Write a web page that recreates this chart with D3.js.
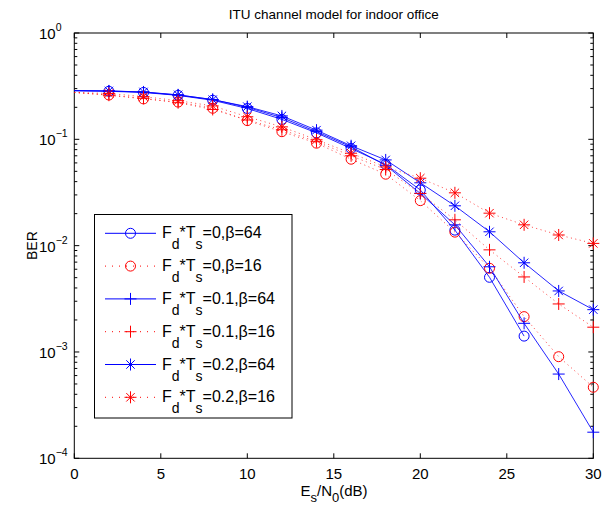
<!DOCTYPE html>
<html lang="en">
<head>
    <meta charset="UTF-8">
    <title>ITU channel model for indoor office</title>
    <script src="https://d3js.org/d3.v7.min.js"></script>
    <style>
        body { margin: 0; background: #fff; }
        svg { display: block; font-family: "Liberation Sans", Arial, sans-serif; }
    </style>
</head>
<body>
<svg id="chart" width="613" height="508"></svg>
<script>
    // Es/N0 points (dB)
    const snr = [0, 2, 4, 6, 8, 10, 12, 14, 16, 18, 20, 22, 24, 26, 28, 30];

    // BER values (null = not plotted)
    const berFd0b64   = [0.287, 0.283, 0.276, 0.259, 0.233, 0.195, 0.154, 0.115, 0.082, 0.058, 0.0334, 0.0140, 0.00504, 0.00141, null, null];
    const berFd0b16   = [0.276, 0.261, 0.240, 0.224, 0.196, 0.150, 0.118, 0.092, 0.065, 0.047, 0.0265, 0.0134, 0.00613, 0.00215, 0.000903, 0.000466];
    const berFd01b64  = [0.287, 0.285, 0.278, 0.261, 0.237, 0.200, 0.160, 0.118, 0.085, 0.057, 0.031, 0.0157, 0.00633, 0.00186, 0.00062, 0.000176];
    const berFd01b16  = [0.276, 0.260, 0.243, 0.221, 0.191, 0.152, 0.123, 0.095, 0.070, 0.052, 0.031, 0.0175, 0.00913, 0.00508, 0.00283, 0.00171];
    const berFd02b64  = [0.287, 0.285, 0.279, 0.262, 0.236, 0.203, 0.166, 0.122, 0.087, 0.064, 0.039, 0.0237, 0.0135, 0.0069, 0.00375, 0.0025];
    const berFd02b16  = [0.276, 0.270, 0.252, 0.231, 0.206, 0.163, 0.131, 0.099, 0.074, 0.055, 0.0431, 0.0314, 0.0202, 0.0157, 0.0126, 0.0105];

    const series = [
        { fd: "0",   beta: "64", color: "#0000ff", dotted: false, marker: "circle", values: berFd0b64 },
        { fd: "0",   beta: "16", color: "#ff0000", dotted: true,  marker: "circle", values: berFd0b16 },
        { fd: "0.1", beta: "64", color: "#0000ff", dotted: false, marker: "plus",   values: berFd01b64 },
        { fd: "0.1", beta: "16", color: "#ff0000", dotted: true,  marker: "plus",   values: berFd01b16 },
        { fd: "0.2", beta: "64", color: "#0000ff", dotted: false, marker: "star",   values: berFd02b64 },
        { fd: "0.2", beta: "16", color: "#ff0000", dotted: true,  marker: "star",   values: berFd02b16 }
    ];

    const xTicks = [0, 5, 10, 15, 20, 25, 30];
    const yDecades = [0, -1, -2, -3, -4];

    const pLeft = 74.3, pRight = 593.3, pTop = 33, pBottom = 458.3;

    const svg = d3.select("#chart");
    const x = d3.scaleLinear().domain([0, 30]).range([pLeft, pRight]);
    const y = d3.scaleLog().domain([1e-4, 1]).range([pBottom, pTop]);

    // title
    svg.append("text")
        .attr("x", (pLeft + pRight) / 2).attr("y", 19)
        .attr("text-anchor", "middle")
        .style("font-size", "13.5px")
        .text("ITU channel model for indoor office");

    // x ticks (bottom + top, inward)
    const g = svg.append("g");
    xTicks.forEach(t => {
        g.append("line").attr("x1", x(t)).attr("x2", x(t)).attr("y1", pBottom).attr("y2", pBottom - 5).attr("stroke", "#000");
        g.append("line").attr("x1", x(t)).attr("x2", x(t)).attr("y1", pTop).attr("y2", pTop + 5).attr("stroke", "#000");
        g.append("text").attr("x", x(t)).attr("y", pBottom + 21)
            .attr("text-anchor", "middle").style("font-size", "15px").text(t);
    });

    // y ticks, major + minor, both sides
    yDecades.forEach(p => {
        const v = Math.pow(10, p);
        g.append("line").attr("x1", pLeft).attr("x2", pLeft + 5).attr("y1", y(v)).attr("y2", y(v)).attr("stroke", "#000");
        g.append("line").attr("x1", pRight).attr("x2", pRight - 5).attr("y1", y(v)).attr("y2", y(v)).attr("stroke", "#000");
        const lab = g.append("text").attr("y", y(v) + 6).style("font-size", "15px");
        lab.append("tspan").attr("x", 39).text("10");
        lab.append("tspan").attr("dy", -8).style("font-size", "10.5px").text(p === 0 ? "0" : "\u2212" + (-p));
        if (p > -4) {
            for (let m = 2; m <= 9; m++) {
                const mv = m * Math.pow(10, p - 1);
                g.append("line").attr("x1", pLeft).attr("x2", pLeft + 3).attr("y1", y(mv)).attr("y2", y(mv)).attr("stroke", "#000");
                g.append("line").attr("x1", pRight).attr("x2", pRight - 3).attr("y1", y(mv)).attr("y2", y(mv)).attr("stroke", "#000");
            }
        }
    });

    // box
    svg.append("rect").attr("x", pLeft).attr("y", pTop)
        .attr("width", pRight - pLeft).attr("height", pBottom - pTop)
        .attr("fill", "none").attr("stroke", "#000");

    // axis labels
    const xl = svg.append("text").attr("x", 334).attr("y", 496)
        .attr("text-anchor", "middle").style("font-size", "15px");
    xl.append("tspan").text("E");
    xl.append("tspan").attr("dy", 6).style("font-size", "13px").text("s");
    xl.append("tspan").attr("dy", -6).text("/N");
    xl.append("tspan").attr("dy", 6).style("font-size", "13px").text("0");
    xl.append("tspan").attr("dy", -6).text("(dB)");

    svg.append("text")
        .attr("transform", `translate(37,${(pTop + pBottom) / 2}) rotate(-90)`)
        .attr("text-anchor", "middle").style("font-size", "14px").text("BER");

    // markers
    function drawMarker(sel, type, cx, cy, color) {
        if (type === "circle") {
            sel.append("circle").attr("cx", cx).attr("cy", cy).attr("r", 5)
                .attr("fill", "none").attr("stroke", color).attr("stroke-width", 1);
        } else {
            const r = 6;
            const p = d3.path();
            p.moveTo(cx - r, cy); p.lineTo(cx + r, cy);
            p.moveTo(cx, cy - r); p.lineTo(cx, cy + r);
            if (type === "star") {
                const d = r * 0.7;
                p.moveTo(cx - d, cy - d); p.lineTo(cx + d, cy + d);
                p.moveTo(cx - d, cy + d); p.lineTo(cx + d, cy - d);
            }
            sel.append("path").attr("d", p.toString()).attr("stroke", color).attr("stroke-width", 1).attr("fill", "none");
        }
    }

    const line = d3.line()
        .defined(d => d[1] !== null)
        .x(d => x(d[0])).y(d => y(d[1]));

    series.forEach(s => {
        const pts = snr.map((v, i) => [v, s.values[i]]);
        const sg = svg.append("g");
        sg.append("path").datum(pts)
            .attr("d", line)
            .attr("fill", "none")
            .attr("stroke", s.color)
            .attr("stroke-width", 1)
            .attr("stroke-dasharray", s.dotted ? "1,3.5" : null)
            .attr("opacity", s.dotted ? 0.75 : 0.85);
        pts.forEach((d, i) => {
            if (i === 0 || d[1] === null) return;
            drawMarker(sg, s.marker, x(d[0]), y(d[1]), s.color);
        });
    });

    // legend
    const lg = svg.append("g");
    lg.append("rect").attr("x", 94.5).attr("y", 214.5).attr("width", 197.5).attr("height", 203.5)
        .attr("fill", "#fff").attr("stroke", "#000");
    series.forEach((s, i) => {
        const cy = 233.3 + i * 32.8;
        lg.append("line").attr("x1", 105).attr("x2", 156).attr("y1", cy).attr("y2", cy)
            .attr("stroke", s.color).attr("stroke-width", 1)
            .attr("stroke-dasharray", s.dotted ? "1,6" : null);
        drawMarker(lg, s.marker, 130.5, cy, s.color);
        const t = lg.append("text").attr("x", 162).attr("y", cy + 5).style("font-size", "16px");
        t.append("tspan").text("F");
        t.append("tspan").attr("dy", 11).style("font-size", "14px").text("d");
        t.append("tspan").attr("dy", -11).text("*T");
        t.append("tspan").attr("dy", 11).style("font-size", "14px").text("s");
        t.append("tspan").attr("dy", -11).text(`=${s.fd},\u03b2=${s.beta}`);
    });
</script>
</body>
</html>
